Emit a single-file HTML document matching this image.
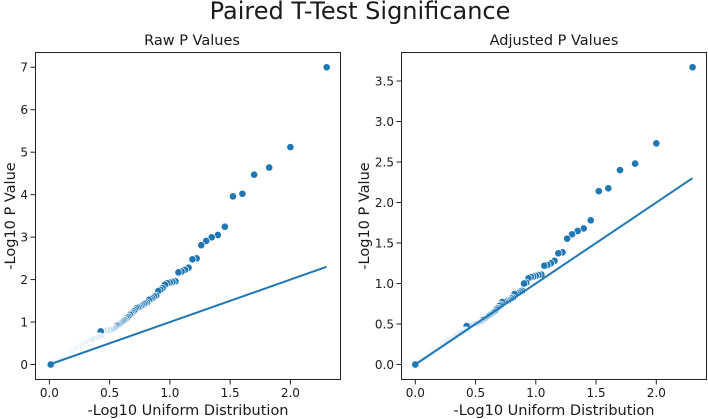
<!DOCTYPE html>
<html lang="en">
<head>
<meta charset="utf-8">
<title>Paired T-Test Significance</title>
<style>
html,body{margin:0;padding:0;background:#fff;width:708px;height:419px;overflow:hidden}
svg{display:block}
text{font-family:"DejaVu Sans","Liberation Sans",sans-serif;fill:#1a1a1a}
</style>
</head>
<body>
<svg id="fig" xmlns="http://www.w3.org/2000/svg" width="708" height="419" viewBox="0 0 708 419">
  <text x="360" y="19" text-anchor="middle" font-size="24">Paired T-Test Significance</text>
  <text x="192" y="45" text-anchor="middle" font-size="14.5">Raw P Values</text>
  <text x="554" y="45" text-anchor="middle" font-size="14.5">Adjusted P Values</text>
  <text x="188" y="415" text-anchor="middle" font-size="14.5">-Log10 Uniform Distribution</text>
  <text x="554" y="415" text-anchor="middle" font-size="14.5">-Log10 Uniform Distribution</text>
  <text transform="translate(15 216) rotate(-90)" text-anchor="middle" font-size="14.5">-Log10 P Value</text>
  <text transform="translate(369 216) rotate(-90)" text-anchor="middle" font-size="14.5">-Log10 P Value</text>
  <g id="panel-raw"></g>
  <g id="panel-adj"></g>
</svg>
<script>
const uniformX = [
2.301,2.0,1.824,1.699,1.602,1.523,1.456,1.398,1.347,1.301,1.26,1.222,1.187,1.155,1.125,1.097,1.071,1.046,1.022,1.0,.979,.959,.939,.921,.903,
.886,.87,.854,.839,.824,.81,.796,.783,.77,.757,.745,.733,.721,.71,.699,.688,.678,.668,.658,.648,.638,.629,.62,.611,.602,
.593,.585,.577,.569,.561,.553,.545,.538,.53,.523,.515,.508,.501,.495,.488,.481,.475,.469,.462,.456,.45,.444,.438,.432,.426,
.42,.414,.408,.403,.398,.393,.387,.382,.377,.372,.367,.362,.357,.352,.347,.342,.337,.333,.328,.323,.319,.314,.31,.305,.301,
.297,.292,.288,.284,.28,.276,.272,.268,.264,.26,.256,.252,.248,.244,.24,.237,.233,.229,.225,.222,.218,.215,.211,.208,.204,
.201,.197,.194,.19,.187,.184,.18,.177,.174,.171,.167,.164,.161,.158,.155,.152,.149,.146,.143,.14,.137,.134,.131,.128,.125,
.122,.119,.116,.114,.111,.108,.105,.102,.1,.097,.094,.092,.089,.086,.084,.081,.078,.076,.073,.071,.068,.066,.063,.06,.058,
.056,.053,.051,.048,.046,.043,.041,.039,.036,.034,.032,.029,.027,.025,.022,.02,.018,.015,.013,.011,.009,.007,.004,.002,0];
const rawY = [
7.0,5.12,4.64,4.47,4.02,3.96,3.245,3.05,2.995,2.91,2.81,2.5,2.477,2.28,2.23,2.19,2.17,1.96,1.945,1.93,1.915,1.88,1.8,1.76,1.73,
1.62,1.6,1.56,1.54,1.52,1.46,1.44,1.42,1.39,1.37,1.35,1.34,1.32,1.28,1.25,1.22,1.19,1.17,1.13,1.11,1.08,1.05,1.04,1.02,1.0,
.98,.96,.94,.93,.92,.9,.87,.85,.84,.83,.82,.81,.81,.81,.8,.8,.8,.8,.79,.79,.79,.79,.78,.78,.78,
.66,.655,.65,.645,.64,.635,.63,.625,.62,.615,.61,.605,.6,.59,.58,.577,.57,.56,.55,.55,
.54,.53,.525,.52,.51,.505,.5,.49,.48,.475,.47,.46,.455,.45,.44,.435,.43,.42,.415,.41,.4,.395,.39,.385,.38,
.38,.37,.365,.36,.35,.345,.34,.335,.33,.32,.315,.31,.3,.295,.29,.285,.28,.27,.265,.26,.255,.25,.24,.235,.23,
.225,.22,.215,.21,.205,.2,.19,.185,.18,.18,.17,.17,.16,.16,.155,.15,.145,.14,.135,.13,.125,.12,.115,.11,.105,
.1,.095,.09,.09,.085,.08,.075,.07,.065,.06,.06,.055,.05,.045,.04,.035,.03,.03,.025,.02,.015,.01,.01,.005,0];
const adjY = [
3.67,2.73,2.48,2.4,2.175,2.14,1.78,1.68,1.648,1.607,1.553,1.385,1.373,1.28,1.25,1.228,1.22,1.11,1.105,1.095,1.085,1.08,1.064,1.01,1.0,
.91,.9,.885,.875,.87,.825,.815,.8,.79,.785,.78,.775,.77,.74,.725,.7,.69,.675,.655,.645,.635,.62,.615,.605,.595,
.585,.575,.565,.56,.555,.545,.53,.525,.52,.515,.51,.505,.505,.5,.5,.5,.495,.495,.49,.49,.485,.485,.48,.48,.475,
.42,.418,.416,.414,.41,.407,.404,.4,.396,.393,.39,.385,.38,.375,.37,.365,.36,.355,.35,.35,.345,.34,.335,.33,
.325,.32,.32,.315,.31,.305,.3,.3,.295,.29,.285,.28,.28,.275,.27,.265,.26,.26,.255,.25,.245,.24,.24,.235,.23,.228,
.225,.22,.22,.215,.21,.205,.205,.2,.195,.19,.19,.185,.18,.175,.175,.17,.165,.165,.16,.155,.155,.15,.145,.145,.14,
.135,.135,.13,.125,.125,.12,.12,.115,.11,.11,.105,.105,.1,.095,.095,.09,.09,.085,.08,.08,.075,.075,.07,.07,.065,
.06,.06,.055,.055,.05,.05,.045,.045,.04,.04,.035,.03,.03,.03,.025,.02,.02,.015,.015,.01,.01,.005,.005,0,0];
const refLineX = [0, 2.3];
const refLineY = [0, 2.3];
const xTicks = [0, 0.5, 1, 1.5, 2];
const xTickLabels = ["0.0", "0.5", "1.0", "1.5", "2.0"];
const rawYTicks = [0, 1, 2, 3, 4, 5, 6, 7];
const rawYTickLabels = ["0", "1", "2", "3", "4", "5", "6", "7"];
const adjYTicks = [0, 0.5, 1, 1.5, 2, 2.5, 3, 3.5];
const adjYTickLabels = ["0.0", "0.5", "1.0", "1.5", "2.0", "2.5", "3.0", "3.5"];

const NS = "http://www.w3.org/2000/svg";
const BLUE = "#1f77b4";
const INK = "#222222";

function mk(parent, tag, attrs) {
  const el = document.createElementNS(NS, tag);
  for (const k in attrs) el.setAttribute(k, attrs[k]);
  parent.appendChild(el);
  return el;
}

function drawPanel(gid, box, sx, sy, ys, yTicks, yLabels) {
  const g = document.getElementById(gid);
  const top = 52.5, bottom = 379.5;
  const xPos = v => sx.zero + v * sx.unit;
  const yPos = v => sy.zero - v * sy.unit;

  ys.forEach((v, i) => {
    const c = mk(g, "circle", {cx: xPos(uniformX[i]), cy: yPos(v), r: 3.65, fill: BLUE, stroke: "#fff", "stroke-width": 0.65});
    
    
  });

  const line = mk(g, "line", {x1: xPos(refLineX[0]), y1: yPos(refLineY[0]), x2: xPos(refLineX[1]), y2: yPos(refLineY[1]), stroke: BLUE, "stroke-width": 2});
  
  

  const frame = mk(g, "rect", {x: box.left, y: top, width: box.right - box.left, height: bottom - top, fill: "none", stroke: INK, "stroke-width": 1});
  
  

  xTicks.forEach((v, i) => {
    const x = xPos(v);
    const t = mk(g, "line", {x1: x, y1: bottom, x2: x, y2: bottom + 5, stroke: INK, "stroke-width": 1});
    
    
    const l = mk(g, "text", {x: x, y: 397, "text-anchor": "middle", "font-size": 12});
    
    
    l.textContent = xTickLabels[i];
  });

  yTicks.forEach((v, i) => {
    const y = yPos(v);
    const t = mk(g, "line", {x1: box.left - 5, y1: y, x2: box.left, y2: y, stroke: INK, "stroke-width": 1});
    
    
    const l = mk(g, "text", {x: box.left - 7.5, y: y + 4.4, "text-anchor": "end", "font-size": 12});
    
    
    l.textContent = yLabels[i];
  });
}

drawPanel("panel-raw", {left: 35.5, right: 340.5}, {zero: 49.4, unit: 120.5}, {zero: 364.5, unit: 42.46}, rawY, rawYTicks, rawYTickLabels);
drawPanel("panel-adj", {left: 401.5, right: 706.5}, {zero: 415.3, unit: 120.5}, {zero: 364.5, unit: 81}, adjY, adjYTicks, adjYTickLabels);
</script>
</body>
</html>
